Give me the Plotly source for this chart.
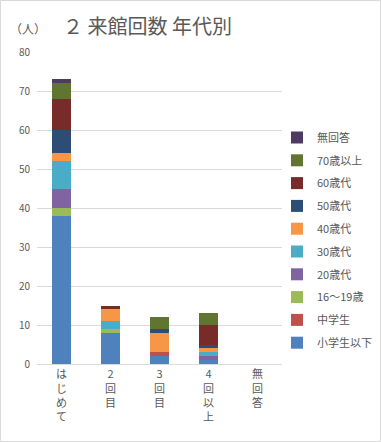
import plotly.graph_objects as go

categories = ["はじめて", "2回目", "3回目", "4回以上", "無回答"]
tick_labels = ["は<br>じ<br>め<br>て", "2<br>回<br>目", "3<br>回<br>目", "4<br>回<br>以<br>上", "無<br>回<br>答"]

series_names = ["小学生以下", "中学生", "16～19歳", "20歳代", "30歳代",
                "40歳代", "50歳代", "60歳代", "70歳以上", "無回答"]
shogakusei = [38, 8, 2, 1, 0]
chugakusei = [0, 0, 1, 0, 0]
age16_19 = [2, 1, 0, 0, 0]
age20s = [5, 0, 0, 1, 0]
age30s = [7, 2, 0, 1, 0]
age40s = [2, 3, 5, 1, 0]
age50s = [6, 0, 1, 1, 0]
age60s = [8, 1, 0, 5, 0]
age70plus = [4, 0, 3, 3, 0]
no_answer = [1, 0, 0, 0, 0]
series_values = [shogakusei, chugakusei, age16_19, age20s, age30s,
                 age40s, age50s, age60s, age70plus, no_answer]
colors = ["#4F81BD", "#C0504D", "#9BBB59", "#8064A2", "#4BACC6",
          "#F79646", "#2C4D75", "#772C2A", "#5F7530", "#4D3B62"]

FONT = "Noto Sans CJK JP"
GRAY = "#595959"

fig = go.Figure()
for i, (name, vals, col) in enumerate(zip(series_names, series_values, colors)):
    fig.add_trace(go.Bar(x=categories, y=vals, name=name, marker_color=col,
                         marker_line_width=0, legendgroup=name,
                         legendrank=1000 - i))

W, H = 381, 442
L, R, T, B = 37, 99, 52, 78
pw, ph = W - L - R, H - T - B

fig.update_layout(
    width=W, height=H,
    margin=dict(l=L, r=R, t=T, b=B, autoexpand=False),
    barmode="stack", bargap=0.61,
    plot_bgcolor="white", paper_bgcolor="white",
    font=dict(family=FONT, color=GRAY),
    showlegend=True,
    legend=dict(traceorder="grouped", tracegroupgap=3.8,
                x=(277 - L) / pw, xanchor="left", y=1 - (123 - T) / ph, yanchor="top",
                font=dict(size=11, color=GRAY, family=FONT),
                itemwidth=30, bgcolor="rgba(0,0,0,0)"),
    xaxis=dict(tickmode="array", tickvals=categories, ticktext=tick_labels,
               tickfont=dict(size=11, color=GRAY), showline=True,
               linecolor="#D9D9D9", linewidth=1, ticks="", tickangle=0,
               automargin=False),
    yaxis=dict(range=[0, 80], dtick=10, showgrid=True, gridcolor="#D9D9D9",
               gridwidth=1, zeroline=False, tickfont=dict(size=10, color=GRAY),
               ticks="", ticklabelstandoff=6, automargin=False),
    annotations=[
        dict(text="２ 来館回数 年代別", xref="paper", yref="paper",
             x=(147 - L) / pw, y=1 + (T - 25) / ph, xanchor="center", yanchor="middle",
             showarrow=False, font=dict(size=20, color=GRAY, family=FONT)),
        dict(text="（人）", xref="paper", yref="paper",
             x=(28 - L) / pw, y=1 + (T - 28) / ph, xanchor="center", yanchor="middle",
             showarrow=False, font=dict(size=12, color=GRAY, family=FONT)),
    ],
    shapes=[dict(type="rect", xref="paper", yref="paper",
                 x0=(0.5 - L) / pw, x1=(W - 0.5 - L) / pw,
                 y0=-(B - 0.5) / ph, y1=1 + (T - 0.5) / ph,
                 line=dict(color="#D9D9D9", width=1), layer="above")],
)

fig.write_html("out.html", config={"displayModeBar": False},
               post_script="document.body.style.margin='0';document.body.style.overflow='hidden';")
